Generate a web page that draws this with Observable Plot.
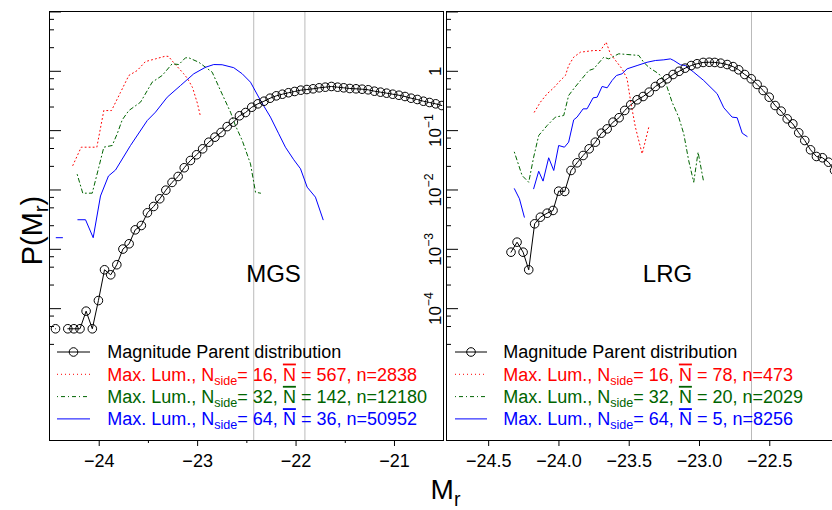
<!DOCTYPE html>
<html><head><meta charset="utf-8">
<script src="https://cdn.jsdelivr.net/npm/d3@7"></script>
<script src="https://cdn.jsdelivr.net/npm/@observablehq/plot@0.6"></script>
<style>
html,body{margin:0;padding:0;background:#fff;}
#wrap{position:relative;width:832px;height:510px;overflow:hidden;background:#fff;}
#wrap svg{position:absolute;left:0;top:0;}
</style></head><body><div id="wrap"></div>
<script>
// ---------- DATA ----------
// MGS (left panel) parent magnitude distribution
const mgsParentM = [-24.444,-24.382,-24.319,-24.257,-24.195,-24.133,-24.070,-24.008,-23.946,-23.883,-23.821,-23.759,-23.696,-23.634,-23.572,-23.510,-23.447,-23.385,-23.323,-23.260,-23.198,-23.136,-23.073,-23.011,-22.949,-22.887,-22.824,-22.762,-22.700,-22.637,-22.575,-22.513,-22.450,-22.388,-22.326,-22.264,-22.201,-22.139,-22.077,-22.014,-21.952,-21.890,-21.827,-21.765,-21.703,-21.641,-21.578,-21.516,-21.454,-21.391,-21.329,-21.267,-21.204,-21.142,-21.080,-21.018,-20.955,-20.893,-20.831,-20.768,-20.706,-20.644,-20.581,-20.519];
const mgsParentP = [4.58e-5,null,4.58e-5,4.58e-5,4.58e-5,9.08e-5,4.58e-5,1.37e-4,4.52e-4,3.72e-4,5.50e-4,1.01e-3,1.24e-3,2.13e-3,2.52e-3,4.13e-3,5.27e-3,7.11e-3,9.93e-3,0.0134,0.0169,0.0237,0.0314,0.0392,0.0494,0.0638,0.0776,0.0931,0.117,0.139,0.178,0.202,0.248,0.283,0.313,0.352,0.386,0.411,0.435,0.457,0.481,0.493,0.507,0.527,0.540,0.555,0.540,0.527,0.513,0.507,0.499,0.488,0.462,0.445,0.428,0.411,0.395,0.376,0.352,0.335,0.313,0.298,0.283,0.265];
// MGS max. luminosity, Nside = 16 / 32 / 64
const mgs16M = [-24.268,-24.183,-24.024,-23.953,-23.875,-23.784,-23.699,-23.614,-23.530,-23.428,-23.327,-23.296,-23.245,-23.144,-23.103,-23.052,-23.002,-22.971];
const mgs16P = [0.0259,0.0526,0.0526,0.218,0.218,0.440,0.850,1.03,1.46,1.62,1.80,1.78,1.41,0.918,0.756,0.533,0.287,0.173];
const mgs32M = [-24.223,-24.167,-24.071,-24.004,-23.953,-23.868,-23.817,-23.766,-23.699,-23.580,-23.462,-23.360,-23.259,-23.191,-23.123,-23.090,-22.988,-22.852,-22.768,-22.666,-22.616,-22.547,-22.463,-22.412,-22.361];
const mgs32P = [0.0182,0.00883,0.00883,0.0242,0.0526,0.0562,0.0885,0.152,0.218,0.302,0.655,0.850,1.34,1.30,1.69,1.69,1.42,0.966,0.475,0.205,0.122,0.0683,0.0276,0.00918,0.00883];
const mgs64M = [-24.437,-24.373,-24.30,-24.217,-24.139,-24.061,-23.987,-23.906,-23.834,-23.682,-23.512,-23.428,-23.309,-23.174,-23.039,-22.920,-22.836,-22.751,-22.633,-22.547,-22.463,-22.361,-22.260,-22.176,-22.108,-22.023,-21.955,-21.887,-21.803,-21.725];
const mgs64P = [0.00157,0.00157,null,0.00315,0.00315,0.00157,0.00792,0.0172,0.0217,0.0562,0.148,0.205,0.366,0.576,0.908,1.17,1.30,1.29,1.15,0.908,0.655,0.322,0.169,0.0885,0.0526,0.0323,0.0228,0.01115,0.00757,0.00315];

// LRG (right panel)
const lrgParentM = [-24.341,-24.298,-24.255,-24.215,-24.173,-24.132,-24.084,-24.042,-24.002,-23.959,-23.914,-23.871,-23.828,-23.785,-23.741,-23.698,-23.657,-23.615,-23.572,-23.532,-23.489,-23.444,-23.401,-23.358,-23.314,-23.273,-23.230,-23.188,-23.145,-23.102,-23.059,-23.017,-22.974,-22.931,-22.891,-22.849,-22.803,-22.761,-22.721,-22.678,-22.632,-22.590,-22.547,-22.504,-22.462,-22.419,-22.376,-22.336,-22.294,-22.251,-22.210,-22.168,-22.125,-22.082,-22.039];
const lrgParentP = [8.95e-4,1.32e-3,8.95e-4,4.52e-4,2.69e-3,3.48e-3,4.06e-3,4.52e-3,9.55e-3,9.44e-3,0.0213,0.0287,0.0381,0.0494,0.0639,0.0906,0.107,0.139,0.165,0.219,0.273,0.331,0.376,0.445,0.555,0.640,0.748,0.883,1.00,1.13,1.25,1.34,1.41,1.42,1.41,1.37,1.30,1.20,1.06,0.883,0.748,0.600,0.475,0.366,0.265,0.213,0.158,0.130,0.0920,0.0682,0.0475,0.0367,0.0349,0.0294,0.0213];
const lrg16M = [-24.175,-24.132,-24.084,-24.037,-23.990,-23.954,-23.931,-23.895,-23.847,-23.753,-23.705,-23.664,-23.634,-23.551,-23.515,-23.491,-23.456,-23.408,-23.361];
const lrg16P = [0.205,0.302,0.418,0.527,0.700,0.850,1.25,1.73,2.10,2.24,2.24,3.09,1.97,1.10,0.748,0.322,0.114,0.0407,0.114];
const lrg32M = [-24.317,-24.262,-24.215,-24.180,-24.144,-24.084,-24.025,-23.966,-23.931,-23.895,-23.847,-23.788,-23.753,-23.681,-23.646,-23.575,-23.515,-23.432,-23.397,-23.361,-23.290,-23.242,-23.195,-23.148,-23.112,-23.077,-23.041,-23.010,-22.970];
const lrg32P = [0.0433,0.0175,0.0135,0.0357,0.0828,0.122,0.169,0.180,0.391,0.507,0.700,1.03,1.10,1.73,1.62,1.97,1.92,1.85,1.42,1.17,0.908,0.655,0.302,0.169,0.0885,0.0314,0.0135,0.0433,0.0135];
const lrg64M = [-24.317,-24.281,-24.246,-24.21,-24.180,-24.144,-24.113,-24.073,-24.037,-24.002,-23.961,-23.931,-23.895,-23.871,-23.828,-23.800,-23.757,-23.728,-23.693,-23.657,-23.622,-23.591,-23.551,-23.515,-23.444,-23.373,-23.314,-23.254,-23.207,-23.183,-23.136,-23.100,-23.041,-22.970,-22.874,-22.827,-22.768,-22.732,-22.696,-22.661];
const lrg64P = [0.0105,0.00711,0.00348,null,0.0105,0.0207,0.0141,0.0349,0.0213,0.0562,0.0526,0.0639,0.152,0.169,0.233,0.233,0.357,0.366,0.555,0.527,0.700,0.850,0.908,1.10,1.25,1.42,1.52,1.56,1.62,1.52,1.29,1.25,0.966,0.700,0.418,0.243,0.169,0.165,0.0906,0.0797];

// reference vertical lines
const mgsGrey = [-22.43, -21.91];
const lrgGrey = [-22.63];

// ticks
const mgsXMajor = [-24, -23, -22, -21];
const mgsXMinor = [-23.5, -22.5, -21.5];
const lrgXMajor = [-24.5, -24.0, -23.5, -23.0, -22.5];
const yMajor = [10, 1, 0.1, 0.01, 0.001, 0.0001];
const yMinor = [7.5,5,2.5,0.75,0.5,0.25,0.075,0.05,0.025,0.0075,0.005,0.0025,0.00075,0.0005,0.00025,0.000075,0.00005,0.000025];
const yLabelValues = [1, 0.1, 0.01, 0.001, 0.0001];
const yLabels = ["1", "10^{−1}", "10^{−2}", "10^{−3}", "10^{−4}"];

// legend
const legendNside = [16, 32, 64];
const mgsNbar = [567, 142, 36];
const mgsN = [2838, 12180, 50952];
const lrgNbar = [78, 20, 5];
const lrgN = [473, 2029, 8256];
const parentLabel = "Magnitude Parent distribution";
const panelNames = ["MGS", "LRG"];

// ---------- BUILD ----------
const RED = "#ff0000", GREEN = "#006400", BLUE = "#0000ff";
const FONT = '"Liberation Sans", Arial, Helvetica, sans-serif';
const rows = (M, P) => M.map((m, i) => ({M: m, P: P[i]}));
const yDomain = [6.0e-7, 10.18];
const lineStyles = [
  {stroke: RED, strokeDasharray: "1,3"},
  {stroke: GREEN, strokeDasharray: "1,3,4,3"},
  {stroke: BLUE}
];
const legendY = [352, 374.3, 396.6, 418.9];
const LEGEND_FS = 18;

function legendText(nbar, n, textX, frameLeft) {
  const marks = [Plot.text([parentLabel], {text: d => d, frameAnchor: "top-left", dx: textX - frameLeft, dy: legendY[0] - 11, textAnchor: "start", lineAnchor: "middle", fontSize: LEGEND_FS, fill: "black"})];
  legendNside.forEach((ns, k) => {
    const label = `Max. Lum., N_{side}= ${ns}, ‾{N} = ${nbar[k]}, n=${n[k]}`;
    marks.push(Plot.text([label], {text: d => d, frameAnchor: "top-left", dx: textX - frameLeft, dy: legendY[k + 1] - 11, textAnchor: "start", lineAnchor: "middle", fontSize: LEGEND_FS, fill: lineStyles[k].stroke}));
  });
  return marks;
}

function dataMarks(parent, s16, s32, s64, grey) {
  return [
    Plot.ruleX(grey, {stroke: "#bababa", strokeWidth: 1}),
    Plot.line(s16, {x: "M", y: "P", ...lineStyles[0], strokeWidth: 1, clip: true}),
    Plot.line(s32, {x: "M", y: "P", ...lineStyles[1], strokeWidth: 1, clip: true}),
    Plot.line(s64, {x: "M", y: "P", ...lineStyles[2], strokeWidth: 1, clip: true}),
    Plot.line(parent, {x: "M", y: "P", stroke: "black", strokeWidth: 1, clip: true}),
    Plot.dot(parent, {x: "M", y: "P", r: 4.3, stroke: "black", fill: "none", strokeWidth: 1, clip: true})
  ];
}

const left = Plot.plot({
  width: 832, height: 510,
  marginLeft: 49, marginRight: 389, marginTop: 11, marginBottom: 70,
  style: {fontFamily: FONT, background: "white", maxWidth: "none", overflow: "visible"},
  x: {type: "linear", domain: [-24.505, -20.502]},
  y: {type: "log", domain: yDomain},
  marks: [
    ...dataMarks(rows(mgsParentM, mgsParentP), rows(mgs16M, mgs16P), rows(mgs32M, mgs32P), rows(mgs64M, mgs64P), mgsGrey),
    Plot.axisY(yMajor, {anchor: "left", tickSize: -12, tickFormat: () => "", label: null}),
    Plot.axisY(yMinor, {anchor: "left", tickSize: -5, tickFormat: () => "", label: null}),
    Plot.axisX(mgsXMajor, {anchor: "bottom", tickSize: 6, tickPadding: 8, fontSize: 18, tickFormat: d3.format("d"), label: null}),
    Plot.axisX(mgsXMinor, {anchor: "bottom", tickSize: 3, tickFormat: () => "", label: null}),
    Plot.frame({stroke: "black", strokeWidth: 1}),
    Plot.text([panelNames[0]], {text: d => d, frameAnchor: "top-left", dx: 273 - 49, dy: 274.3 - 11, textAnchor: "middle", lineAnchor: "middle", fontSize: 24}),
    ...legendText(mgsNbar, mgsN, 106.7, 49),
    Plot.text(["P(M_{r})"], {text: d => d, frameAnchor: "top-left", dx: -8, dy: 230 - 11, rotate: -90, textAnchor: "middle", lineAnchor: "bottom", fontSize: 29}),
    Plot.text(["M_{r}"], {text: d => d, frameAnchor: "bottom-right", dx: 2, dy: 50, textAnchor: "middle", lineAnchor: "middle", fontSize: 28})
  ]
});

const right = Plot.plot({
  width: 900, height: 510,
  marginLeft: 446, marginRight: 46.4, marginTop: 11, marginBottom: 70,
  style: {fontFamily: FONT, background: "transparent", maxWidth: "none", overflow: "visible"},
  x: {type: "linear", domain: [-24.8, -21.9]},
  y: {type: "log", domain: yDomain},
  marks: [
    ...dataMarks(rows(lrgParentM, lrgParentP), rows(lrg16M, lrg16P), rows(lrg32M, lrg32P), rows(lrg64M, lrg64P), lrgGrey),
    Plot.axisY(yMajor, {anchor: "left", tickSize: -12, tickFormat: () => "", label: null}),
    Plot.axisY(yMinor, {anchor: "left", tickSize: -5, tickFormat: () => "", label: null}),
    Plot.text(yLabelValues, {y: d => d, text: (d, i) => yLabels[i], frameAnchor: "left", dx: -6, rotate: -90, textAnchor: "middle", lineAnchor: "bottom", fontSize: 17}),
    Plot.axisX(lrgXMajor, {anchor: "bottom", tickSize: 6, tickPadding: 8, fontSize: 18, tickFormat: d3.format(".1f"), label: null}),
    Plot.frame({stroke: "black", strokeWidth: 1}),
    Plot.text([panelNames[1]], {text: d => d, frameAnchor: "top-left", dx: 667 - 446, dy: 274.3 - 11, textAnchor: "middle", lineAnchor: "middle", fontSize: 24}),
    ...legendText(lrgNbar, lrgN, 502.7, 446)
  ]
});

const wrap = document.getElementById("wrap");
wrap.appendChild(left);
wrap.appendChild(right);

// ---------- rich text (sub/superscripts, overline) ----------
const NS = "http://www.w3.org/2000/svg";
function richify(root) {
  root.querySelectorAll("text").forEach(el => {
    const t = el.textContent;
    if (!/[_^‾]\{/.test(t)) return;
    const fs = parseFloat(getComputedStyle(el).fontSize) || 16;
    while (el.firstChild) el.removeChild(el.firstChild);
    let cur = 0;
    t.split(/([_^‾]\{[^}]*\})/).filter(Boolean).forEach(p => {
      const ts = document.createElementNS(NS, "tspan");
      let shift = 0, content = p;
      if (p.length > 2 && p[1] === "{" && "_^‾".includes(p[0])) {
        content = p.slice(2, -1);
        if (p[0] === "_") { shift = fs * 0.22; ts.setAttribute("font-size", (fs * 0.7).toFixed(1)); }
        else if (p[0] === "^") { shift = -fs * 0.45; ts.setAttribute("font-size", (fs * 0.72).toFixed(1)); }
        else { ts.setAttribute("text-decoration", "overline"); ts.style.textDecoration = "overline"; }
      }
      if (shift !== cur) { ts.setAttribute("dy", (shift - cur).toFixed(2)); cur = shift; }
      ts.textContent = content;
      el.appendChild(ts);
    });
  });
}
richify(left);
richify(right);

// ---------- legend swatches ----------
function swatches(svg, x1, x2) {
  const g = d3.select(svg).append("g").attr("aria-label", "legend swatches");
  g.append("line").attr("x1", x1).attr("x2", x2).attr("y1", legendY[0]).attr("y2", legendY[0]).attr("stroke", "black");
  g.append("circle").attr("cx", (x1 + x2) / 2).attr("cy", legendY[0]).attr("r", 4.3).attr("fill", "none").attr("stroke", "black");
  lineStyles.forEach((s, k) => {
    g.append("line").attr("x1", x1).attr("x2", x2).attr("y1", legendY[k + 1]).attr("y2", legendY[k + 1])
      .attr("stroke", s.stroke).attr("stroke-dasharray", s.strokeDasharray || null);
  });
}
swatches(left, 57, 90);
swatches(right, 455, 487);
</script></body></html>
